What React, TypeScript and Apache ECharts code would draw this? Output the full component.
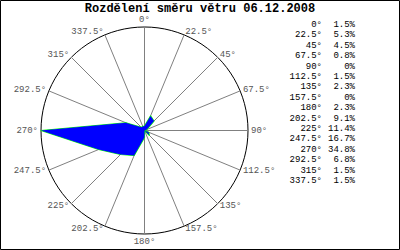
import React, { useEffect, useRef } from "react";
import * as echarts from "echarts";

const titleText = "Rozdělení směru větru 06.12.2008";
const directions = [0, 22.5, 45, 67.5, 90, 112.5, 135, 157.5, 180, 202.5, 225, 247.5, 270, 292.5, 315, 337.5];
const percents = [1.5, 5.3, 4.5, 0.8, 0, 1.5, 2.3, 0, 2.3, 9.1, 11.4, 16.7, 34.8, 6.8, 1.5, 1.5];

const MONO = "'Liberation Mono', 'DejaVu Sans Mono', monospace";

export default function App() {
  const ref = useRef<HTMLDivElement>(null);
  useEffect(() => {
    if (!ref.current) return;
    const chart = echarts.init(ref.current, undefined, { renderer: "svg" });
    const n = directions.length;
    const maxVal = Math.max(...percents);
    // radar places indicators counter-clockwise; reorder so compass runs clockwise
    const order = directions.map((_, i) => (n - i) % n);
    const indicators = order.map((i) => ({ name: `${directions[i]}°`, min: 0, max: maxVal }));
    const values = order.map((i) => percents[i]);

    const legendTexts: any[] = [];
    directions.forEach((d, i) => {
      legendTexts.push({
        type: "text",
        x: 322,
        y: 25 + i * 10.4,
        style: { text: `${d}°`, fill: "#000", font: `9px ${MONO}`, textAlign: "right", textVerticalAlign: "middle" },
      });
      legendTexts.push({
        type: "text",
        x: 355,
        y: 25 + i * 10.4,
        style: { text: `${percents[i]}%`, fill: "#000", font: `9px ${MONO}`, textAlign: "right", textVerticalAlign: "middle" },
      });
    });

    chart.setOption({
      animation: false,
      backgroundColor: "#fff",
      radar: {
        center: [144.5, 130.5],
        radius: 103.5,
        shape: "circle",
        splitNumber: 1,
        indicator: indicators,
        nameGap: 3,
        axisName: { color: "#555", fontSize: 9, fontFamily: MONO },
        axisLine: { lineStyle: { color: "#808080", width: 1 } },
        splitLine: { lineStyle: { color: "#000", width: 1 } },
        splitArea: { show: false },
        axisTick: { show: false },
        axisLabel: { show: false },
      },
      series: [
        {
          type: "radar",
          symbol: "none",
          silent: true,
          data: [{ value: values, lineStyle: { color: "#00ff00", width: 1.2 } }],
        },
        {
          type: "radar",
          symbol: "none",
          silent: true,
          data: [{ value: values, lineStyle: { width: 0, color: "#0000ff" }, areaStyle: { color: "#0000ff", opacity: 1 } }],
        },
      ],
      graphic: [
        {
          type: "rect",
          shape: { x: 0.5, y: 0.5, width: 399, height: 249 },
          style: { fill: "none", stroke: "#000", lineWidth: 1 },
        },
        {
          type: "text",
          x: 200,
          y: 9,
          style: { text: titleText, fill: "#000", font: `bold 12px ${MONO}`, textAlign: "center", textVerticalAlign: "middle" },
        },
        ...legendTexts,
      ],
    });
    return () => chart.dispose();
  }, []);
  return <div ref={ref} style={{ position: "fixed", left: 0, top: 0, width: 400, height: 250 }} />;
}
